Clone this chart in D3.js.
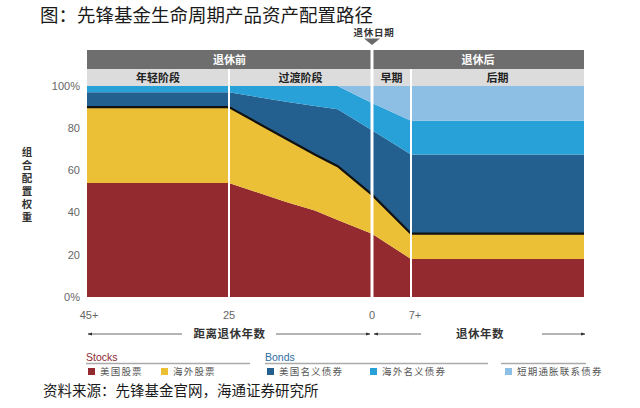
<!DOCTYPE html>
<html><head><meta charset="utf-8">
<script src="https://cdn.jsdelivr.net/npm/d3@7/dist/d3.min.js"></script>
<style>
body{margin:0;background:#fff;}
svg{display:block;}
</style></head>
<body><svg id="c" width="640" height="408"></svg>
<script>
// ---- data ----
const years = [-45, -25, -15, -10, -6, 0, 7, 30];
const usStocks   = [54, 54, 45, 41, 36.5, 30, 18, 18];
const intlStocks = [36, 36, 30, 26.5, 25.5, 18.5, 12, 12];
const usBonds    = [7, 7, 17.5, 23, 27, 30.5, 37.5, 37.5];
const intlBonds  = [3, 3, 7.5, 9.5, 11, 13, 16, 16];
const tips       = [0, 0, 0, 0, 0, 8, 16.5, 16.5];
const seriesKeys = ["美国股票", "海外股票", "美国名义债券", "海外名义债券", "短期通胀联系债券"];
const seriesColors = ["#932a2f", "#ebc036", "#235f8f", "#28a0d8", "#8dbee3"];
const yTicks = [0, 20, 40, 60, 80, 100];
const yTickLabels = ["0%", "20", "40", "60", "80", "100%"];
const xTicks = [-45, -25, 0, 7];
const xTickLabels = ["45+", "25", "0", "7+"];
const topHeaders = [{t:"退休前", a:-45, b:0}, {t:"退休后", a:0, b:30}];
const subHeaders = [{t:"年轻阶段", a:-45, b:-25}, {t:"过渡阶段", a:-25, b:0}, {t:"早期", a:0, b:7}, {t:"后期", a:7, b:30}];

const svg = d3.select("#c");
const x = d3.scaleLinear().domain([-45, -25, 0, 7, 30]).range([87, 229, 372, 411, 584]);
const y = d3.scaleLinear().domain([0, 100]).range([297, 86]);
const serif = "'Noto Sans CJK SC', sans-serif";
const narrow = "'Liberation Sans Narrow', 'Arial Narrow', 'Liberation Sans', sans-serif";

// title
svg.append("text").attr("x", 40).attr("y", 22).attr("font-family", serif)
  .attr("font-size", 18.5).attr("fill", "#1a1a1a").text("图：先锋基金生命周期产品资产配置路径");

// retirement date marker
svg.append("text").attr("x", 374).attr("y", 36).attr("text-anchor", "middle")
  .attr("font-family", serif).attr("font-size", 9.5).attr("font-weight", "bold").attr("letter-spacing", 0.8).attr("fill", "#333").text("退休日期");
svg.append("path").attr("d", `M${x(0)-8},38.5 L${x(0)+8},38.5 L${x(0)},45 Z`).attr("fill", "#6a6a6a");

// header bars
svg.append("rect").attr("x", x(-45)).attr("y", 50).attr("width", x(30)-x(-45)).attr("height", 19).attr("fill", "#6e6e6e");
svg.append("rect").attr("x", x(-45)).attr("y", 69).attr("width", x(30)-x(-45)).attr("height", 17).attr("fill", "#dcdcdc");
topHeaders.forEach(h => svg.append("text").attr("x", (x(h.a)+x(h.b))/2).attr("y", 64).attr("text-anchor", "middle")
  .attr("font-family", serif).attr("font-size", 11).attr("font-weight", "bold").attr("fill", "#fff").text(h.t));
subHeaders.forEach(h => svg.append("text").attr("x", (x(h.a)+x(h.b))/2).attr("y", 81.5).attr("text-anchor", "middle")
  .attr("font-family", serif).attr("font-size", 11).attr("font-weight", "bold").attr("fill", "#222").text(h.t));

// stacked areas
const rows = years.map((yr, i) => ({year: yr, [seriesKeys[0]]: usStocks[i], [seriesKeys[1]]: intlStocks[i],
  [seriesKeys[2]]: usBonds[i], [seriesKeys[3]]: intlBonds[i], [seriesKeys[4]]: tips[i]}));
const stacked = d3.stack().keys(seriesKeys)(rows);
const area = d3.area().x(d => x(d.data.year)).y0(d => y(d[0])).y1(d => y(d[1]));
svg.append("g").selectAll("path").data(stacked).join("path")
  .attr("d", area).attr("fill", (d, i) => seriesColors[i]);

// stock/bond divider line
const line = d3.line().x(d => x(d.data.year)).y(d => y(d[1]));
svg.append("path").attr("d", line(stacked[1])).attr("fill", "none").attr("stroke", "#111").attr("stroke-width", 2.2);

// white separators
[[-25, 69, 2], [7, 69, 2], [0, 50, 3]].forEach(([v, top, w]) =>
  svg.append("line").attr("x1", x(v)).attr("x2", x(v)).attr("y1", top).attr("y2", y(0))
    .attr("stroke", "#fff").attr("stroke-width", w));

// y axis labels
svg.append("g").selectAll("text").data(yTicks).join("text")
  .attr("x", 80).attr("y", d => y(d)).attr("dy", "0.35em").attr("text-anchor", "end")
  .attr("font-family", narrow).attr("font-size", 11).attr("fill", "#666").text((d, i) => yTickLabels[i]);
svg.append("text").attr("x", 27).attr("y", 147).attr("writing-mode", "vertical-rl")
  .attr("font-family", serif).attr("font-size", 10.5).attr("font-weight", "bold").attr("letter-spacing", 2.5)
  .attr("fill", "#333").text("组合配置权重");

// x axis labels
svg.append("g").selectAll("text").data(xTicks).join("text")
  .attr("x", (d, i) => x(d) + (i === 0 ? 2 : (i === 3 ? 4 : 0))).attr("y", 319).attr("text-anchor", "middle")
  .attr("font-family", narrow).attr("font-size", 11).attr("fill", "#666").text((d, i) => xTickLabels[i]);

// arrow row
const defs = svg.append("defs");
defs.append("marker").attr("id", "ah").attr("viewBox", "0 0 10 10").attr("refX", 9).attr("refY", 5)
  .attr("markerWidth", 6).attr("markerHeight", 6).attr("orient", "auto-start-reverse")
  .append("path").attr("d", "M0,1.5 L10,5 L0,8.5 Z").attr("fill", "#333");
const ay = 334;
const arrowSegs = [[x(-45)+1, 182, "start"], [276, x(0)-2, "end"], [x(0)+2, 421, "start"], [542, x(30)+1, "end"]];
arrowSegs.forEach(([a, b, m]) => {
  const l = svg.append("line").attr("x1", a).attr("x2", b).attr("y1", ay).attr("y2", ay).attr("stroke", "#444").attr("stroke-width", 0.8);
  if (m === "start") l.attr("marker-start", "url(#ah)"); else l.attr("marker-end", "url(#ah)");
});
svg.append("text").attr("x", (x(-45)+x(0))/2).attr("y", ay + 4).attr("text-anchor", "middle")
  .attr("font-family", serif).attr("font-size", 11.5).attr("font-weight", "bold").attr("letter-spacing", 0.5).attr("fill", "#333").text("距离退休年数");
svg.append("text").attr("x", (x(0)+x(30))/2 + 2).attr("y", ay + 4).attr("text-anchor", "middle")
  .attr("font-family", serif).attr("font-size", 11.5).attr("font-weight", "bold").attr("letter-spacing", 0.5).attr("fill", "#333").text("退休年数");

// legend
const groups = [{t:"Stocks", c:"#8b2a2e", a:86, b:250}, {t:"Bonds", c:"#2d6ca2", a:265, b:488}, {t:"", c:"#fff", a:501, b:586}];
groups.forEach(g => {
  svg.append("line").attr("x1", g.a).attr("x2", g.b).attr("y1", 363.5).attr("y2", 363.5).attr("stroke", "#aaa").attr("stroke-width", 1.3);
  if (g.t) svg.append("text").attr("x", g.a).attr("y", 361).attr("font-family", "'Liberation Sans', sans-serif")
    .attr("font-size", 10.5).attr("fill", g.c).text(g.t);
});
const legendX = [88, 161, 267, 370, 505];
seriesKeys.forEach((k, i) => {
  svg.append("rect").attr("x", legendX[i]).attr("y", 368).attr("width", 7).attr("height", 7).attr("fill", seriesColors[i]);
  svg.append("text").attr("x", legendX[i] + 12).attr("y", 374.5).attr("font-family", serif).attr("font-size", 9.5)
    .attr("letter-spacing", 1.2).attr("fill", "#555").text(k);
});

// source
svg.append("text").attr("x", 43).attr("y", 395.5).attr("font-family", serif).attr("font-size", 14.5)
  .attr("fill", "#1a1a1a").text("资料来源：先锋基金官网，海通证券研究所");
</script></body></html>
